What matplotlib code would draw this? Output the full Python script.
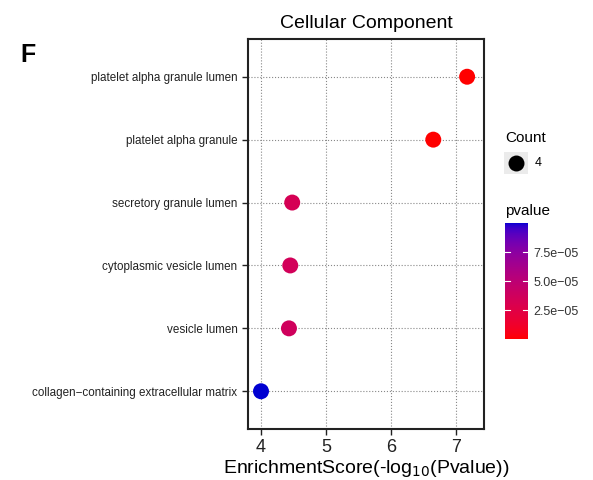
import matplotlib
matplotlib.use("Agg")
import matplotlib.pyplot as plt
import numpy as np
from matplotlib.colors import ListedColormap, Normalize
from matplotlib.cm import ScalarMappable

plt.rcParams['font.family'] = ['Liberation Sans', 'DejaVu Sans']

# GO cellular component terms, bottom to top
terms = ['collagen\u2212containing extracellular matrix', 'vesicle lumen',
         'cytoplasmic vesicle lumen', 'secretory granule lumen',
         'platelet alpha granule', 'platelet alpha granule lumen']
enrichment = [4.00, 4.43, 4.45, 4.48, 6.65, 7.17]
counts = [4, 4, 4, 4, 4, 4]
pvalues = [10 ** -s for s in enrichment]

WHITE = np.array([0.95047, 1.0, 1.08883])


def rgb_to_lab(rgb):
    rgb = np.asarray(rgb, dtype=float)
    lin = np.where(rgb <= 0.04045, rgb / 12.92, ((rgb + 0.055) / 1.055) ** 2.4)
    m = np.array([[0.4124, 0.3576, 0.1805],
                  [0.2126, 0.7152, 0.0722],
                  [0.0193, 0.1192, 0.9505]])
    xyz = m @ lin / WHITE
    f = np.where(xyz > (6 / 29) ** 3, np.cbrt(xyz), xyz / (3 * (6 / 29) ** 2) + 4 / 29)
    return np.array([116 * f[1] - 16, 500 * (f[0] - f[1]), 200 * (f[1] - f[2])])


def lab_to_rgb(lab):
    L, a, b = lab[:, 0], lab[:, 1], lab[:, 2]
    fy = (L + 16) / 116
    fx = fy + a / 500
    fz = fy - b / 200
    def finv(t):
        return np.where(t > 6 / 29, t ** 3, 3 * (6 / 29) ** 2 * (t - 4 / 29))
    X = WHITE[0] * finv(fx)
    Y = WHITE[1] * finv(fy)
    Z = WHITE[2] * finv(fz)
    r = 3.2406 * X - 1.5372 * Y - 0.4986 * Z
    g = -0.9689 * X + 1.8758 * Y + 0.0415 * Z
    bb = 0.0557 * X - 0.2040 * Y + 1.0570 * Z
    rgb = np.clip(np.stack([r, g, bb], axis=-1), 0, None)
    rgb = np.where(rgb <= 0.0031308, 12.92 * rgb, 1.055 * rgb ** (1 / 2.4) - 0.055)
    return np.clip(rgb, 0, 1)


# red -> blue gradient interpolated in Lab
t = np.linspace(0, 1, 256)[:, None]
low_lab = rgb_to_lab([1.0, 0.0, 0.0])
high_lab = rgb_to_lab([0.0, 0.0, 0.82])
cmap = ListedColormap(lab_to_rgb(low_lab * (1 - t) + high_lab * t))
norm = Normalize(vmin=min(pvalues), vmax=max(pvalues))

fig = plt.figure(figsize=(5.93, 4.80), dpi=100)
ax = fig.add_axes([248 / 593, 51 / 480, 236 / 593, 390 / 480])

y = np.arange(len(terms))
ax.scatter(enrichment, y, s=[c * 33 for c in counts], c=pvalues, cmap=cmap, norm=norm,
           zorder=3, linewidths=0)

ax.set_xlim(3.8, 7.43)
ax.set_ylim(-0.6, 5.6)
ax.set_xticks([4, 5, 6, 7])
ax.set_yticks(y)
ax.set_yticklabels(terms, fontsize=8.4, color='#222222')
ax.tick_params(axis='x', labelsize=13, colors='#222222', length=4, width=1)
ax.tick_params(axis='y', length=4, width=1, colors='#222222')
ax.grid(True, linestyle=':', color='#888888', linewidth=0.8)
ax.set_axisbelow(True)
for sp in ax.spines.values():
    sp.set_linewidth(1.5)
    sp.set_color('#222222')

ax.set_xlabel('EnrichmentScore(-log$_{10}$(Pvalue))', fontsize=14, labelpad=1)
ax.set_title('Cellular Component', fontsize=14, pad=8)
fig.text(20 / 593, 1 - 62 / 480, 'F', fontsize=18, fontweight='bold')

# size legend
fig.text(505 / 593, 1 - 138 / 480, 'Count', fontsize=11, va='center')
lax = fig.add_axes([504 / 593, 1 - 174 / 480, 24 / 593, 22 / 480])
lax.set_xlim(0, 1)
lax.set_ylim(0, 1)
lax.set_xticks([])
lax.set_yticks([])
lax.set_facecolor('#EBEBEB')
for sp in lax.spines.values():
    sp.set_visible(False)
lax.scatter([0.5], [0.5], s=4 * 33, color='black', linewidths=0)
fig.text(535 / 593, 1 - 163 / 480, '4', fontsize=9, va='center')

# colour bar
fig.text(505 / 593, 1 - 211 / 480, 'pvalue', fontsize=11, va='center')
cax = fig.add_axes([505 / 593, 1 - 339 / 480, 23 / 593, 116 / 480])
cb = fig.colorbar(ScalarMappable(norm=norm, cmap=cmap), cax=cax)
cb.outline.set_visible(False)
cb.set_ticks([2.5e-5, 5.0e-5, 7.5e-5])
cb.set_ticklabels(['2.5e\u221205', '5.0e\u221205', '7.5e\u221205'])
cax.tick_params(length=0, labelsize=9, colors='#333333', pad=4)
for v in [2.5e-5, 5.0e-5, 7.5e-5]:
    cax.plot([0, 0.2], [v, v], color='white', linewidth=0.8)
    cax.plot([0.8, 1], [v, v], color='white', linewidth=0.8)

fig.savefig('out.png', dpi=100)
